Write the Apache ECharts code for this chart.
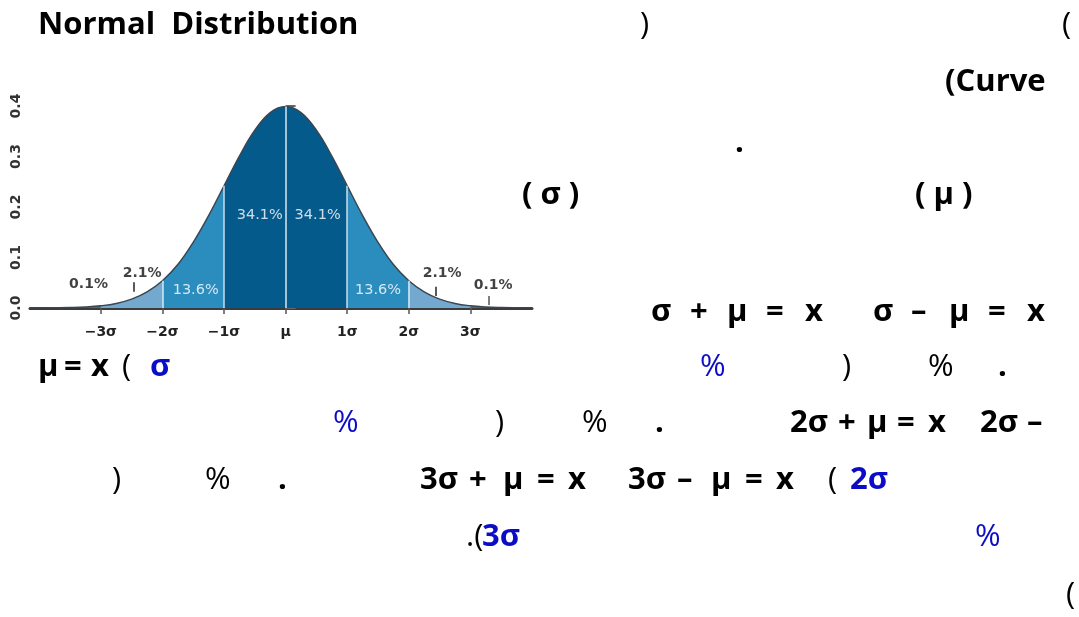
<!DOCTYPE html>
<html>
<head>
<meta charset="utf-8">
<script src="https://cdn.jsdelivr.net/npm/echarts@6/dist/echarts.min.js"></script>
<style>
html,body{margin:0;padding:0;background:#fff;}
#chart{width:1079px;height:617px;}
</style>
</head>
<body>
<div id="chart"></div>
<script>
// ---- data ----
var xValues = [-4.15,-4,-3.75,-3.5,-3.25,-3,-2.75,-2.5,-2.25,-2,-1.75,-1.5,-1.25,-1,-0.75,-0.5,-0.25,0,0.25,0.5,0.75,1,1.25,1.5,1.75,2,2.25,2.5,2.75,3,3.25,3.5,3.75,4];
var densityValues = [0.0001,0.0001,0.0004,0.0009,0.002,0.0044,0.009,0.0175,0.032,0.054,0.086,0.130,0.183,0.242,0.301,0.352,0.387,0.399,0.387,0.352,0.301,0.242,0.183,0.130,0.086,0.054,0.032,0.0175,0.009,0.0044,0.002,0.0009,0.0004,0.0001];
var xTickValues = [-3,-2,-1,0,1,2,3];
var xTickLabels = ['\u22123\u03c3','\u22122\u03c3','\u22121\u03c3','\u03bc','1\u03c3','2\u03c3','3\u03c3'];
var yTickValues = [0,0.1,0.2,0.3,0.4];
var yTickLabels = ['0.0','0.1','0.2','0.3','0.4'];
var regionShares = ['0.1%','2.1%','13.6%','34.1%','34.1%','13.6%','2.1%','0.1%'];
var shareX = [-3.2,-2.33,-1.46,-0.42,0.52,1.50,2.54,3.37];
var shareY = [0.046,0.069,0.036,0.184,0.184,0.036,0.069,0.044];

function pts(lo, hi){
  var out=[];
  for(var i=0;i<xValues.length;i++){ if(xValues[i]>=lo-1e-9 && xValues[i]<=hi+1e-9) out.push([xValues[i],densityValues[i]]); }
  return out;
}
function dAt(x){ var i=xValues.indexOf(x); return densityValues[i]; }

function area(lo,hi,color){
  return {type:'line',data:pts(lo,hi),smooth:0.4,symbol:'none',silent:true,
    lineStyle:{width:0},areaStyle:{color:color,opacity:1},z:2};
}
var series = [
  area(-4.15,-3,'#5a6670'), area(3,4,'#5a6670'),
  area(-3,-2,'#74a9cf'), area(2,3,'#74a9cf'),
  area(-2,-1,'#2b8cbe'), area(1,2,'#2b8cbe'),
  area(-1,1,'#055a8c'),
  {type:'line',data:pts(-4.15,4),smooth:0.4,symbol:'none',silent:true,
    lineStyle:{color:'#3b4650',width:1.5},z:4,
    markLine:{silent:true,symbol:'none',label:{show:false},animation:false,
      data:[
        [{coord:[0,0],lineStyle:{color:'#dbe7f0',width:1.5,type:'solid'}},{coord:[0,dAt(0)]}],
        [{coord:[-1,0],lineStyle:{color:'#c9dcea',width:1.5,type:'solid'}},{coord:[-1,dAt(-1)]}],
        [{coord:[1,0],lineStyle:{color:'#c9dcea',width:1.5,type:'solid'}},{coord:[1,dAt(1)]}],
        [{coord:[-2,0],lineStyle:{color:'#d7e8f4',width:1.5,type:'solid'}},{coord:[-2,dAt(-2)]}],
        [{coord:[2,0],lineStyle:{color:'#d7e8f4',width:1.5,type:'solid'}},{coord:[2,dAt(2)]}],
        [{coord:[-2.46,0.032],lineStyle:{color:'#222',width:1.5,type:'solid'}},{coord:[-2.46,0.051]}],
        [{coord:[2.44,0.024],lineStyle:{color:'#222',width:1.5,type:'solid'}},{coord:[2.44,0.042]}],
        [{coord:[3.30,0.006],lineStyle:{color:'#555',width:1.5,type:'solid'}},{coord:[3.30,0.024]}]
      ]}
  },
  {type:'scatter',symbolSize:0,silent:true,z:6,
    data:shareX.map(function(x,i){
      var white = (i>=2 && i<=5);
      return {value:[x,shareY[i]],label:{show:true,position:'inside',formatter:regionShares[i],
        color: white ? '#ffffff' : '#111111',
        fontFamily:'DejaVu Sans',fontSize: white?14.5:14,fontWeight: white?'normal':'bold'}};
    })
  }
];

// ---- page text around the chart (layout only) ----
var BLUE='#0c0cc8', BLACK='#000000';
var B='bold', N='normal';
var pageTexts = [
  ['Normal  Distribution',38,25,BLACK,B],
  [')',640,25,BLACK,N],
  ['(',1062,25,BLACK,N],
  ['(Curve',945,82,BLACK,B],
  ['.',735,143,BLACK,B],
  ['( \u03c3 )',522,195,BLACK,B],
  ['( \u03bc )',915,195,BLACK,B],
  // row 312
  ['\u03c3',651,312,BLACK,B],['+',690,312,BLACK,B],['\u03bc',727,312,BLACK,B],['=',766,312,BLACK,B],['x',805,312,BLACK,B],
  ['\u03c3',873,312,BLACK,B],['\u2013',911,312,BLACK,B],['\u03bc',949,312,BLACK,B],['=',988,312,BLACK,B],['x',1027,312,BLACK,B],
  // row 367
  ['\u03bc',38,367,BLACK,B],['=',64,367,BLACK,B],['x',91,367,BLACK,B],
  ['(',122,367,BLACK,N],
  ['\u03c3',150,367,BLUE,B],
  ['%',700,367,BLUE,N],
  [')',842,367,BLACK,N],
  ['%',928,367,BLACK,N],
  ['.',998,367,BLACK,B],
  // row 423
  ['%',333,423,BLUE,N],
  [')',495,423,BLACK,N],
  ['%',582,423,BLACK,N],
  ['.',655,423,BLACK,B],
  ['2\u03c3',790,423,BLACK,B],['+',838,423,BLACK,B],['\u03bc',867,423,BLACK,B],['=',897,423,BLACK,B],['x',928,423,BLACK,B],
  ['2\u03c3',980,423,BLACK,B],['\u2013',1027,423,BLACK,B],
  // row 480
  [')',112,480,BLACK,N],
  ['%',205,480,BLACK,N],
  ['.',278,480,BLACK,B],
  ['3\u03c3',420,480,BLACK,B],['+',469,480,BLACK,B],['\u03bc',503,480,BLACK,B],['=',537,480,BLACK,B],['x',568,480,BLACK,B],
  ['3\u03c3',628,480,BLACK,B],['\u2013',677,480,BLACK,B],['\u03bc',711,480,BLACK,B],['=',745,480,BLACK,B],['x',776,480,BLACK,B],
  ['(',828,480,BLACK,N],
  ['2\u03c3',850,480,BLUE,B],
  // row 537
  ['.(',466,537,BLACK,N],
  ['3\u03c3',482,537,BLUE,B],
  ['%',975,537,BLUE,N],
  ['(',1066,595,BLACK,N]
];
var graphics = pageTexts.map(function(t){
  return {type:'text',left:t[1],top:t[2]-15,silent:true,
    style:{text:t[0],fill:t[3],font:t[4]+' 31px "Open Sans"'}};
});

var chart = echarts.init(document.getElementById('chart'),null,{renderer:'canvas'});
chart.setOption({
  animation:false,
  backgroundColor:'#ffffff',
  grid:{left:30,top:106,width:502,height:202,containLabel:false},
  xAxis:{type:'value',min:-4.15,max:4,
    axisLine:{show:true,lineStyle:{color:'#3c3c3c',width:3}},
    axisTick:{show:true,customValues:xTickValues,length:6,lineStyle:{color:'#555',width:1.5}},
    axisLabel:{show:true,customValues:xTickValues,margin:17,color:'#222',fontFamily:'DejaVu Sans',fontSize:14,fontWeight:'bold',
      formatter:function(v){var i=xTickValues.indexOf(Math.round(v));return i>=0?xTickLabels[i]:'';}},
    splitLine:{show:false}},
  yAxis:{type:'value',min:0,max:0.4,interval:0.2,
    axisLine:{show:false},
    axisTick:{show:true,inside:true,length:10,lineStyle:{color:'#666',width:2}},
    minorTick:{show:true,splitNumber:2,length:4,lineStyle:{color:'#888',width:2}},
    axisLabel:{show:true,customValues:yTickValues,rotate:90,margin:7,color:'#333',fontFamily:'DejaVu Sans',fontSize:14,fontWeight:'bold',
      formatter:function(v){return yTickLabels[Math.round(v*10)];}},
    splitLine:{show:false}},
  series:series,
  graphic:graphics
});
</script>
</body>
</html>
